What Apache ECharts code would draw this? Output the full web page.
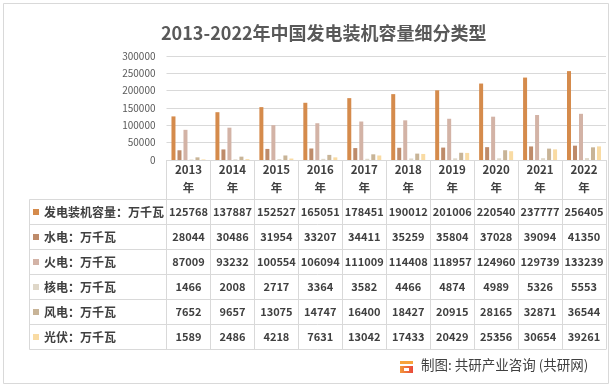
<!DOCTYPE html>
<html>
<head>
<meta charset="utf-8">
<script src="https://cdn.jsdelivr.net/npm/echarts@6/dist/echarts.min.js"></script>
<style>
html,body{margin:0;padding:0;background:#fff;}
#c{width:613px;height:388px;}
</style>
</head>
<body>
<div id="c"></div>
<script>
const years = ['2013','2014','2015','2016','2017','2018','2019','2020','2021','2022'];
const seriesNames = ['发电装机容量：万千瓦','水电：万千瓦','火电：万千瓦','核电：万千瓦','风电：万千瓦','光伏：万千瓦'];
const totalCap = [125768,137887,152527,165051,178451,190012,201006,220540,237777,256405];
const hydro = [28044,30486,31954,33207,34411,35259,35804,37028,39094,41350];
const thermal = [87009,93232,100554,106094,111009,114408,118957,124960,129739,133239];
const nuclear = [1466,2008,2717,3364,3582,4466,4874,4989,5326,5553];
const wind = [7652,9657,13075,14747,16400,18427,20915,28165,32871,36544];
const solar = [1589,2486,4218,7631,13042,17433,20429,25356,30654,39261];
const yTicks = [0,50000,100000,150000,200000,250000,300000];

const allData = [totalCap, hydro, thermal, nuclear, wind, solar];
const colors = ['#D58B4C','#BE8B6A','#D3B3A6','#DFD7C8','#C8B497','#F9DBA3'];
const font = '"Noto Sans CJK SC", "Noto Sans", sans-serif';
const textColor = '#404040';
const lineColor = '#D9D9D9';

const plotTop = 56, plotBottom = 160, tableLeft = 29.5, tableRight = 606;
const rowTop = 199.5, rowH = 25;

const xAxes = [{
  type: 'category', data: years, gridIndex: 0, position: 'bottom',
  axisLine: {show: true, lineStyle: {color: lineColor}},
  axisTick: {show: true, length: 189.5, interval: 0, lineStyle: {color: lineColor}},
  axisLabel: {interval: 0, margin: 1, fontFamily: font, fontSize: 11.5, fontWeight: 'bold',
    color: textColor, lineHeight: 18, formatter: v => v + '\n年'}
}];
allData.forEach((row, r) => {
  xAxes.push({
    type: 'category', data: years, gridIndex: 0, position: 'bottom',
    offset: rowTop + rowH * r + rowH / 2 - plotBottom,
    axisLine: {show: false}, axisTick: {show: false},
    axisLabel: {interval: 0, margin: 0, verticalAlign: 'middle', fontFamily: font,
      fontSize: 11, fontWeight: 'bold', color: textColor,
      formatter: (v, i) => String(row[i])}
  });
});

const graphics = [];
for (let i = 0; i <= 6; i++) {
  const y = rowTop + rowH * i;
  graphics.push({type: 'line', silent: true, shape: {x1: tableLeft, y1: y, x2: tableRight, y2: y},
    style: {stroke: lineColor, lineWidth: 1}});
}
graphics.push({type: 'line', silent: true, shape: {x1: tableLeft, y1: rowTop, x2: tableLeft, y2: rowTop + rowH * 6},
  style: {stroke: lineColor, lineWidth: 1}});
// outer frame
graphics.push({type: 'rect', silent: true, shape: {x: 3.5, y: 3.5, width: 605, height: 380},
  style: {fill: 'none', stroke: '#D9D9D9', lineWidth: 1}});
// footer logo
graphics.push({type: 'group', left: 400, top: 361, silent: true, children: [
  {type: 'rect', shape: {x: 0, y: 0, width: 13, height: 3}, style: {fill: '#F7A33B'}},
  {type: 'rect', shape: {x: 0, y: 5, width: 13, height: 7}, style: {fill: {type: 'linear', x: 0, y: 0, x2: 1, y2: 0,
    colorStops: [{offset: 0, color: '#F39A3A'}, {offset: 1, color: '#E8483B'}]}}},
  {type: 'rect', shape: {x: 4, y: 7, width: 5, height: 3}, style: {fill: '#fff'}}
]});
graphics.push({type: 'text', left: 421, top: 358, silent: true,
  style: {text: '制图: 共研产业咨询 (共研网)', font: '13.5px ' + font, fill: textColor}});

const option = {
  animation: false,
  backgroundColor: '#fff',
  title: {text: '2013-2022年中国发电装机容量细分类型', left: 156, top: 19,
    textStyle: {fontFamily: font, fontSize: 18, fontWeight: 'bold', color: '#595959'}},
  legend: {
    orient: 'vertical', left: 33, top: rowTop + rowH / 2 - 7.5, padding: 0,
    itemWidth: 6, itemHeight: 6, itemGap: rowH - 15, icon: 'rect',
    selectedMode: false,
    textStyle: {fontFamily: font, fontSize: 12, fontWeight: 'bold', color: textColor, lineHeight: 15},
    data: seriesNames
  },
  grid: {left: 166.5, right: 613 - tableRight, top: plotTop, bottom: 388 - plotBottom, containLabel: false},
  xAxis: xAxes,
  yAxis: {
    type: 'value', min: yTicks[0], max: yTicks[yTicks.length - 1], interval: yTicks[1] - yTicks[0],
    axisLine: {show: false}, axisTick: {show: false},
    axisLabel: {margin: 11, fontFamily: font, fontSize: 10, color: '#595959', formatter: v => String(v)},
    splitLine: {lineStyle: {color: lineColor}}
  },
  series: allData.map((d, i) => ({
    name: seriesNames[i], type: 'bar', xAxisIndex: 0, data: d,
    barWidth: 4, barGap: '50%', itemStyle: {color: colors[i]}
  })),
  graphic: graphics
};

const chart = echarts.init(document.getElementById('c'));
chart.setOption(option);
</script>
</body>
</html>
